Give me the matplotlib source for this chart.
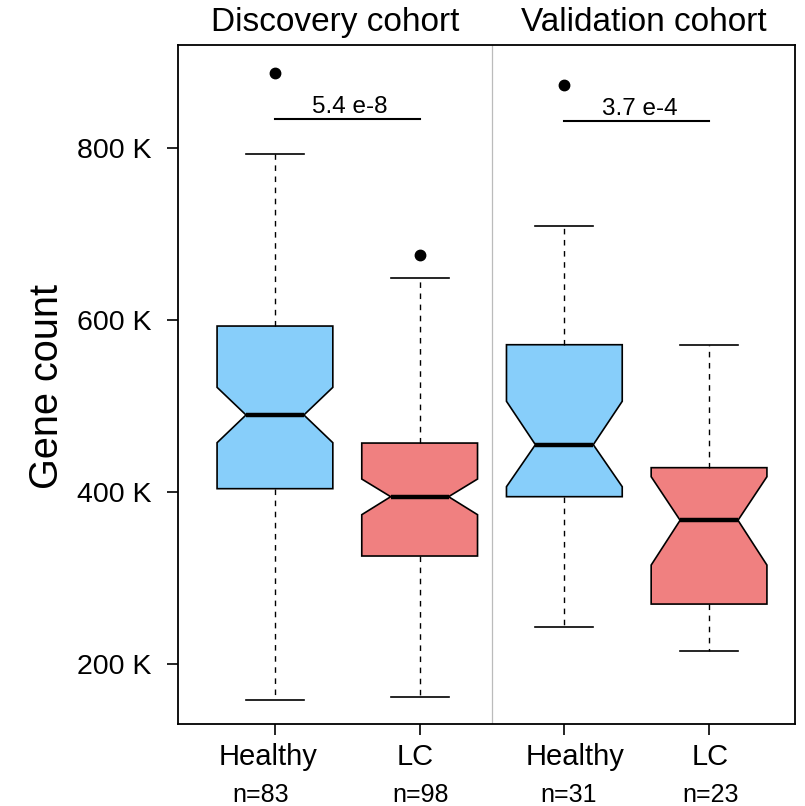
import matplotlib
matplotlib.use("Agg")
import matplotlib.pyplot as plt
from matplotlib.transforms import offset_copy

plt.rcParams['font.family'] = ['Liberation Sans', 'DejaVu Sans']

# ---- data (values in K genes) ----
groups = ["Healthy", "LC", "Healthy", "LC"]
n_labels = ["n=83", "n=98", "n=31", "n=23"]
cohorts = ["Discovery cohort", "Validation cohort"]
whislo = [158.7, 162.1, 243.4, 215.6]
q1 = [404.1, 325.9, 394.8, 270.1]
cilo = [457.5, 373.9, 406.4, 315.4]
med = [489.7, 394.8, 455.2, 367.4]
cihi = [521.8, 415.3, 505.6, 418.0]
q3 = [593.0, 457.1, 571.3, 428.5]
whishi = [792.4, 648.8, 709.2, 570.6]
fliers = [[886.9], [675.7], [872.9], []]
pvalues = ["5.4 e-8", "3.7 e-4"]
pbar_y = [833.8, 831.0]
yticks = [200, 400, 600, 800]
ytick_labels = ["200 K", "400 K", "600 K", "800 K"]
colors = ["#87CEFA", "#F08080", "#87CEFA", "#F08080"]

# small horizontal nudges of the label texts (points), as in the original layout
group_label_dx = [-5.0, -3.2, 8.0, 0.5]
n_label_dx = [-10.0, 1.0, 3.0, 1.0]

positions = [1, 2, 3, 4]
xlim = (0.33, 4.594)
divider = 2.5

fig = plt.figure(figsize=(8.05, 8.06), dpi=100)
ax = fig.add_axes([178/805, 1-724/806, (795-178)/805, (724-45)/806])

stats = []
for i in range(4):
    stats.append(dict(med=med[i], q1=q1[i], q3=q3[i], whislo=whislo[i],
                      whishi=whishi[i], fliers=fliers[i], cilo=cilo[i], cihi=cihi[i]))

bp = ax.bxp(stats, positions=positions, widths=0.8, shownotches=True,
            patch_artist=True, capwidths=0.4,
            boxprops=dict(edgecolor="black", linewidth=1.2),
            whiskerprops=dict(color="black", linewidth=1.0, linestyle=(0, (4, 4))),
            capprops=dict(color="black", linewidth=1.2),
            medianprops=dict(color="black", linewidth=3.2, solid_capstyle="butt"),
            flierprops=dict(marker="o", markerfacecolor="black", markeredgecolor="black",
                            markersize=7.5))
for patch, c in zip(bp["boxes"], colors):
    patch.set_facecolor(c)

ax.axvline(divider, color="#bbbbbb", linewidth=0.9, zorder=0)

# significance bars
for k in range(2):
    x0, x1 = positions[2*k], positions[2*k+1]
    ax.plot([x0, x1], [pbar_y[k], pbar_y[k]], color="black", linewidth=1.5)
    ax.text((x0 + x1) / 2 + 0.02, pbar_y[k] + 6.6, pvalues[k], ha="center",
            va="baseline", fontsize=17.5)

ax.set_xlim(*xlim)
ax.set_ylim(130.8, 919.4)
ax.set_yticks(yticks)
ax.set_yticklabels(ytick_labels, fontsize=20.5)
ax.set_xticks(positions)
ax.set_xticklabels([])
ax.tick_params(axis="both", direction="out", length=8, width=1.2, pad=6)
ax.tick_params(axis="y", pad=11)
for s in ax.spines.values():
    s.set_linewidth(1.3)

ax.set_ylabel("Gene count", fontsize=28.5)
ax.yaxis.set_label_coords(-0.1815, 0.497)

xtr = ax.get_xaxis_transform()
for i in range(4):
    t1 = offset_copy(xtr, fig=fig, x=group_label_dx[i], y=0, units="points")
    ax.text(positions[i], -0.049, groups[i], transform=t1,
            ha="center", va="center", fontsize=21)
    t2 = offset_copy(xtr, fig=fig, x=n_label_dx[i], y=0, units="points")
    ax.text(positions[i], -0.104, n_labels[i], transform=t2,
            ha="center", va="center", fontsize=18)

half_centers = [(xlim[0] + divider) / 2, (divider + xlim[1]) / 2]
for k, t in enumerate(cohorts):
    ax.text(half_centers[k], 1.0 + 0.033, t,
            transform=xtr, ha="center", va="center", fontsize=24)

fig.savefig("out.png", dpi=100)
